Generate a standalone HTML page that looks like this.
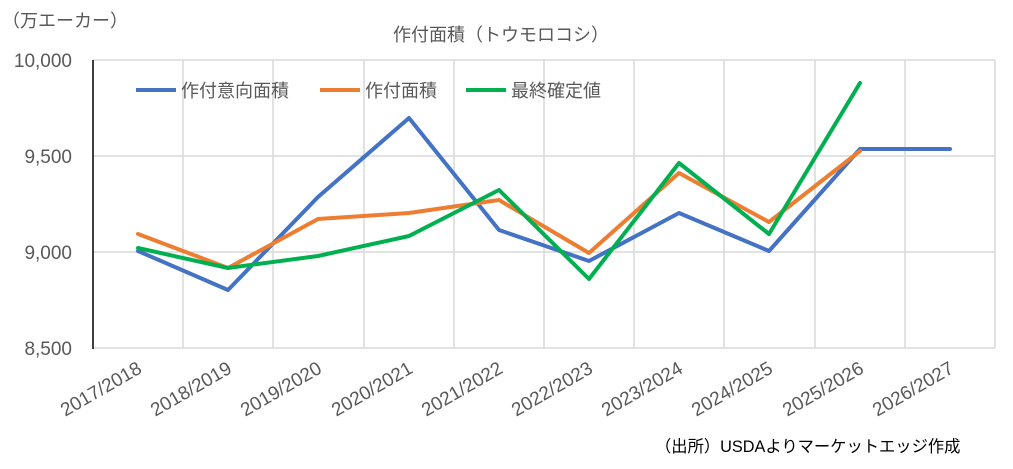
<!DOCTYPE html>
<html><head><meta charset="utf-8"><style>
html,body{margin:0;padding:0;background:#fff;}
svg{display:block;font-family:"Liberation Sans","Noto Sans CJK JP",sans-serif;}
</style></head><body>
<svg width="1013" height="469" viewBox="0 0 1013 469">
<rect width="1013" height="469" fill="#fff"/>
<g stroke="#d9d9d9" stroke-width="1.5" fill="none">
<line x1="93" y1="60" x2="995" y2="60"/>
<line x1="93" y1="156" x2="995" y2="156"/>
<line x1="93" y1="252" x2="995" y2="252"/>
<line x1="93" y1="348" x2="995" y2="348"/>
<line x1="183" y1="60" x2="183" y2="348"/>
<line x1="273" y1="60" x2="273" y2="348"/>
<line x1="364" y1="60" x2="364" y2="348"/>
<line x1="454" y1="60" x2="454" y2="348"/>
<line x1="544" y1="60" x2="544" y2="348"/>
<line x1="634" y1="60" x2="634" y2="348"/>
<line x1="724" y1="60" x2="724" y2="348"/>
<line x1="815" y1="60" x2="815" y2="348"/>
<line x1="905" y1="60" x2="905" y2="348"/>
<line x1="995" y1="60" x2="995" y2="348"/>
</g>
<line x1="93" y1="60" x2="93" y2="349" stroke="#000" stroke-width="1.5"/>
<g fill="#595959" font-size="19" text-anchor="end">
<text x="72" y="67">10,000</text>
<text x="72" y="163">9,500</text>
<text x="72" y="259">9,000</text>
<text x="72" y="355">8,500</text>
</g>
<g fill="#595959" font-size="19" text-anchor="end">
<text transform="translate(143,372) rotate(-30)">2017/2018</text>
<text transform="translate(233,372) rotate(-30)">2018/2019</text>
<text transform="translate(323,372) rotate(-30)">2019/2020</text>
<text transform="translate(414,372) rotate(-30)">2020/2021</text>
<text transform="translate(504,372) rotate(-30)">2021/2022</text>
<text transform="translate(594,372) rotate(-30)">2022/2023</text>
<text transform="translate(684,372) rotate(-30)">2023/2024</text>
<text transform="translate(774,372) rotate(-30)">2024/2025</text>
<text transform="translate(865,372) rotate(-30)">2025/2026</text>
<text transform="translate(955,372) rotate(-30)">2026/2027</text>
</g>
<g fill="none" stroke-width="4" stroke-linejoin="round" stroke-linecap="round">
<polyline stroke="#4472c4" points="138,251 228,290 318,197 409,118 499,230 589,261 679,213 769,251 860,149 950,149"/>
<polyline stroke="#ed7d31" points="138,234 228,268 318,219 409,213 499,200 589,253 679,173 769,222 860,151"/>
<polyline stroke="#00b050" points="138,248 228,268 318,256 409,236 499,190 589,279 679,163 769,234 860,83"/>
</g>
<g stroke-width="4">
<line x1="136" y1="90" x2="176" y2="90" stroke="#4472c4"/>
<line x1="320" y1="90" x2="360" y2="90" stroke="#ed7d31"/>
<line x1="466" y1="90" x2="506" y2="90" stroke="#00b050"/>
</g>
<g fill="#595959" font-size="18">
<text x="181" y="97">作付意向面積</text>
<text x="365" y="97">作付面積</text>
<text x="511" y="97">最終確定値</text>
<text x="393" y="41">作付面積（トウモロコシ）</text>
<text x="2" y="27">（万エーカー）</text>
</g>
<text x="655" y="452" fill="#000" font-size="16.3">（出所）USDAよりマーケットエッジ作成</text>
</svg>
</body></html>
